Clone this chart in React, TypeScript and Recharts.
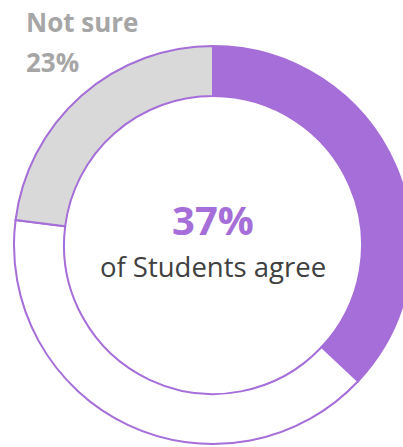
import { PieChart, Pie, Cell } from "recharts";

const segments = ["Agree", "Disagree", "Not sure"];
const shares = [37, 40, 23];
const fills = ["#a56ed8", "#ffffff", "#d9d9d9"];

const data = segments.map((name, i) => ({ name, value: shares[i] }));

const FONT = "'Open Sans', Lato, sans-serif";

export default function App() {
  return (
    <div
      style={{
        position: "absolute",
        left: 0,
        top: 0,
        width: 403,
        height: 447,
        overflow: "hidden",
        background: "#fff",
        fontFamily: FONT,
      }}
    >
      <PieChart width={403} height={447} margin={{ top: 0, right: 0, bottom: 0, left: 0 }}>
        <Pie
          data={data}
          dataKey="value"
          nameKey="name"
          cx={213}
          cy={245}
          innerRadius={149}
          outerRadius={199}
          startAngle={90}
          endAngle={-270}
          stroke="#a56ed8"
          strokeWidth={2}
          isAnimationActive={false}
        >
          {data.map((_, i) => (
            <Cell key={i} fill={fills[i]} />
          ))}
        </Pie>
      </PieChart>
      <svg
        width={403}
        height={447}
        style={{ position: "absolute", left: 0, top: 0, pointerEvents: "none" }}
      >
        <text x={26} y={32} fill="#a6a6a6" fontWeight={700} fontSize={26}>
          {segments[2]}
        </text>
        <text x={26} y={72} fill="#a6a6a6" fontWeight={700} fontSize={26}>
          {shares[2]}%
        </text>
        <text x={213} y={235} textAnchor="middle" fill="#a56ed8" fontWeight={700} fontSize={40}>
          {shares[0]}%
        </text>
        <text x={213} y={277} textAnchor="middle" fill="#404040" fontSize={27.5}>
          of Students agree
        </text>
      </svg>
    </div>
  );
}
